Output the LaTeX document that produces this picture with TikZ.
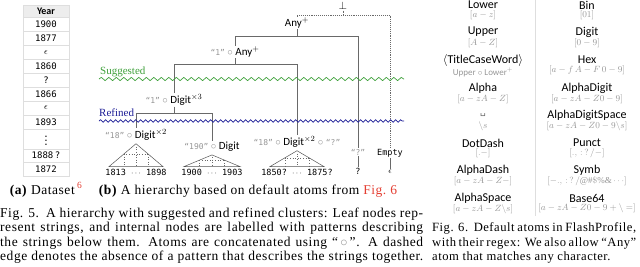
\documentclass[tikz,border=0pt]{standalone}
\usepackage{fontspec}
\setmainfont{Liberation Serif}
\setsansfont{Carlito}
\setmonofont{DejaVu Sans Mono}
\newfontfamily\glyphfont{DejaVu Sans}
\newfontfamily\capfont[LetterSpace=4]{Liberation Serif}
\usepackage{xcolor}
\usepackage{tikz}
\usetikzlibrary{calc,positioning,decorations.pathmorphing}
\definecolor{hgreen}{RGB}{62,160,58}
\definecolor{hblue}{RGB}{28,28,150}
\definecolor{hred}{RGB}{228,62,50}
\definecolor{hgray}{RGB}{150,150,150}
\definecolor{hline}{RGB}{105,105,105}
\definecolor{hrule}{RGB}{222,222,222}
\newcommand{\strlit}[1]{{\fontsize{8}{9}\selectfont\ttfamily\color{hgray}“#1”}}
\newcommand{\catop}{{\color{hgray}$\circ$}}

\begin{document}
\begin{tikzpicture}[
  x=1pt, y=-1pt,
  every node/.style={inner sep=1pt},
  cell/.style={draw=hrule, minimum width=46pt, minimum height=13.9pt,
    inner sep=0pt, outer sep=0pt, font=\fontsize{9}{10}\selectfont\ttfamily},
  head/.style={cell, fill=gray!14, minimum height=12.5pt,
    font=\fontsize{10}{11}\selectfont\sffamily\bfseries},
  pat/.style={font=\fontsize{11}{12}\selectfont\sffamily},
  leaf/.style={font=\fontsize{8.5}{9}\selectfont\ttfamily},
  edge/.style={draw=hline, line width=0.6pt},
  nopat/.style={draw=hline, densely dotted, line width=0.9pt},
  tri/.style={draw=hline!80!black, line width=0.5pt},
  dots/.style={draw=hline, dotted, line width=0.6pt},
  wave/.style={decorate, decoration={snake, amplitude=1.5pt, segment length=7pt}, line width=0.7pt},
  tag/.style={anchor=base west, inner sep=0pt, font=\fontsize{11}{12}\selectfont},
  atom/.style={font=\fontsize{12}{13}\selectfont\sffamily},
  rgx/.style={font=\fontsize{9}{10}\selectfont, text=hgray, inner sep=0.5pt},
  sep/.style={draw=hrule, line width=0.6pt},
  sub/.style={anchor=base, inner sep=0pt, font=\fontsize{13.5}{14.5}\selectfont\capfont},
  capline/.style={anchor=base west, inner sep=0pt, font=\fontsize{13.5}{14.5}\selectfont\capfont},
  capside/.style={capline, font=\fontsize{12.6}{14.5}\selectfont\capfont}
]
  \useasboundingbox (0,0) rectangle (640,266);
  \clip (0,0) rectangle (640,266);

  % (a) the dataset column
  \node[head] (year) at (46,11.25) {Year};
  \node[cell, below=0pt of year] (r1) {1900};
  \node[cell, below=0pt of r1] (r2) {1877};
  \node[cell, below=0pt of r2] (r3) {$\epsilon$};
  \node[cell, below=0pt of r3] (r4) {1860};
  \node[cell, below=0pt of r4] (r5) {?};
  \node[cell, below=0pt of r5] (r6) {1866};
  \node[cell, below=0pt of r6] (r7) {$\epsilon$};
  \node[cell, below=0pt of r7] (r8) {1893};
  \node[cell, below=0pt of r8, minimum height=20pt] (r9) {\raisebox{1pt}{$\vdots$}};
  \node[cell, below=0pt of r9] (r10) {1888\,?};
  \node[cell, below=0pt of r10] (r11) {1872};
  \node[sub] (capa) at (46,194) {\textbf{(a)} Dataset\,\textsuperscript{\color{hred}6}};

  % (b) the hierarchy
  \coordinate (lv0) at (0,15);
  \coordinate (lv1) at (0,36);
  \coordinate (lv2) at (0,64);
  \coordinate (lv3) at (0,113);

  \node[pat] (bot) at (343,5.5) {$\bot$};
  \node[pat] (anyp) at (297,23) {Any$^+$};
  \node[pat] (oneany) at (235,52) {\strlit{1} \catop\ Any$^+$};
  \node[pat] (onedig) at (174,100) {\strlit{1} \catop\ Digit$^{\times 3}$};
  \node[pat] (edig) at (136,135) {\strlit{18} \catop\ Digit$^{\times 2}$};
  \node[pat] (ninedig) at (212,147) {\strlit{190} \catop\ Digit};
  \node[pat] (edigq) at (297,142) {\strlit{18} \catop\ Digit$^{\times 2}$ \catop\ \strlit{?}};
  \node[pat] (qlit) at (358,152) {\strlit{?}};
  \node[leaf] (empty) at (390,153) {Empty};

  \node[leaf] (lf1) at (136,172) {1813 $\cdots$ 1898};
  \node[leaf] (lf2) at (212,172) {1900 $\cdots$ 1903};
  \node[leaf] (lf3) at (297,172) {1850? $\cdots$ 1875?};
  \node[leaf] (lfq) at (358,171) {?};
  \node[leaf] (lfe) at (390,172) {$\epsilon$};

  \draw[nopat] (bot.south) -- (bot.south |- lv0) -| (anyp.north);
  \draw[nopat] (bot.south |- lv0) -| (empty.north);
  \draw[edge] (anyp.south) -- (anyp.south |- lv1) -| (oneany.north);
  \draw[edge] (anyp.south |- lv1) -| (qlit.north);
  \draw[edge] (oneany.south) -- (oneany.south |- lv2) -| (onedig.north);
  \draw[edge] (oneany.south |- lv2) -| (edigq.north);
  \draw[edge] (onedig.south) -- (onedig.south |- lv3) -| (edig.north);
  \draw[edge] (onedig.south |- lv3) -| (ninedig.north);
  \draw[edge] (qlit.south) -- (lfq.north);
  \draw[edge] (empty.south) -- (lfe.north);

  % leaf clusters
  \draw[tri] ($(edig.south)+(0,2)$) coordinate (a1) -- ($(lf1.north)+(-27,-1)$) coordinate (l1)
    -- ($(lf1.north)+(27,-1)$) coordinate (r1b) -- cycle;
  \draw[dots] ($(a1)!0.45!(l1)$) coordinate (m1) -- ($(a1)!0.45!(r1b)$) coordinate (n1);
  \draw[dots] (m1) -- (m1 |- l1) (n1) -- (n1 |- l1) ($(a1)+(0,3)$) -- (a1 |- l1);
  \draw[tri] ($(ninedig.south)+(0,2)$) coordinate (a2) -- ($(lf2.north)+(-28,-1)$) coordinate (l2)
    -- ($(lf2.north)+(28,-1)$) coordinate (r2b) -- cycle;
  \draw[dots] ($(a2)!0.45!(l2)$) coordinate (m2) -- ($(a2)!0.45!(r2b)$) coordinate (n2);
  \draw[dots] (m2) -- (m2 |- l2) (n2) -- (n2 |- l2) ($(a2)+(0,2)$) -- (a2 |- l2);
  \draw[tri] ($(edigq.south)+(0,2)$) coordinate (a3) -- ($(lf3.north)+(-27,-1)$) coordinate (l3)
    -- ($(lf3.north)+(27,-1)$) coordinate (r3b) -- cycle;
  \draw[dots] ($(a3)!0.45!(l3)$) coordinate (m3) -- ($(a3)!0.45!(r3b)$) coordinate (n3);
  \draw[dots] (m3) -- (m3 |- l3) (n3) -- (n3 |- l3) ($(a3)+(0,3)$) -- (a3 |- l3);

  % cluster levels
  \coordinate (sugW) at (99,79);
  \coordinate (sugE) at (404,79);
  \coordinate (refW) at (99,121);
  \coordinate (refE) at (404,121);
  \draw[wave, hgreen, decoration={segment length=7.5pt, amplitude=1.6pt}] (sugW) -- (sugE);
  \draw[wave, hblue, decoration={segment length=5pt, amplitude=1.3pt}] (refW) -- (refE);
  \node[tag, text=hgreen] (sugtag) at (100,74) {Suggested};
  \node[tag, text=hblue] (reftag) at (99,116) {Refined};

  \node[sub] (capb) at (248,194) {\textbf{(b)} A hierarchy based on default atoms from {\color{hred}Fig.~6}};

  % Fig. 6 atoms
  \draw[sep] (535,0) -- (535,216);
  \node[atom] (lower) at (483,5) {Lower};
  \node[rgx, below=0pt of lower] (lowerre) {$[a-z]$};
  \node[atom] (upper) at (483,32) {Upper};
  \node[rgx, below=0pt of upper] (upperre) {$[A-Z]$};
  \node[atom] (tcw) at (483,60) {$\langle$TitleCaseWord$\rangle$};
  \node[rgx, below=0pt of tcw, font=\fontsize{9}{10}\selectfont\sffamily] (tcwre) {Upper $\circ$ Lower$^+$};
  \node[atom] (alpha) at (483,88) {Alpha};
  \node[rgx, below=0pt of alpha] (alphare) {$[a-zA-Z]$};
  \node[atom, font=\fontsize{9}{10}\selectfont\glyphfont, text=hline] (space) at (483,115) {␣};
  \node[rgx] (spacere) at (483,126.5) {$\backslash s$};
  \node[atom] (dotdash) at (483,143) {DotDash};
  \node[rgx, below=0pt of dotdash] (dotdashre) {$[.-]$};
  \node[atom] (alphadash) at (483,170) {AlphaDash};
  \node[rgx, below=0pt of alphadash] (alphadashre) {$[a-zA-Z-]$};
  \node[atom] (alphaspace) at (483,198) {AlphaSpace};
  \node[rgx, below=0pt of alphaspace] (alphaspacere) {$[a-zA-Z\backslash s]$};

  \node[atom] (bin) at (587,5) {Bin};
  \node[rgx, below=0pt of bin] (binre) {$[01]$};
  \node[atom] (digit) at (587,32) {Digit};
  \node[rgx, below=0pt of digit] (digitre) {$[0-9]$};
  \node[atom] (hex) at (587,60) {Hex};
  \node[rgx, below=0pt of hex] (hexre) {$[a-f\,A-F\,0-9]$};
  \node[atom] (alphadigit) at (587,88) {AlphaDigit};
  \node[rgx, below=0pt of alphadigit] (alphadigitre) {$[a-zA-Z0-9]$};
  \node[atom] (adspace) at (587,115) {AlphaDigitSpace};
  \node[rgx, below=0pt of adspace] (adspacere) {$[a-zA-Z0-9\backslash s]$};
  \node[atom] (punct) at (587,143) {Punct};
  \node[rgx, below=0pt of punct] (punctre) {$[.,\,{:}\,?\,/-]$};
  \node[atom] (symb) at (587,170) {Symb};
  \node[rgx, below=0pt of symb] (symbre) {$[-.,\,{:}\,?\,/@\#\$\%\&\cdots]$};
  \node[atom] (base) at (587,198) {Base64};
  \node[rgx, below=0pt of base] (basere) {$[a-zA-Z0-9+\backslash=]$};

  % captions
  \node[capline] (f5a) at (0,217) {\makebox[423pt][s]{Fig. 5.\ \ A hierarchy with suggested and refined clusters: Leaf nodes rep-}};
  \node[capline] (f5b) at (0,231.5) {\makebox[423pt][s]{resent strings, and internal nodes are labelled with patterns describing}};
  \node[capline] (f5c) at (0,246) {\makebox[423pt][s]{the strings below them. Atoms are concatenated using “\,{\color{hgray}$\circ$}\,”. A dashed}};
  \node[capline] (f5d) at (0,260.5) {\makebox[423pt][s]{edge denotes the absence of a pattern that describes the strings together.}};
  \node[capside] (f6a) at (432,231.5) {\makebox[204pt][s]{Fig. 6.\ \ Default atoms in FlashProfile,}};
  \node[capside] (f6b) at (432,246) {\makebox[204pt][s]{with their regex: We also allow “Any”}};
  \node[capside] (f6c) at (432,260.5) {atom that matches any character.};
\end{tikzpicture}
\end{document}
